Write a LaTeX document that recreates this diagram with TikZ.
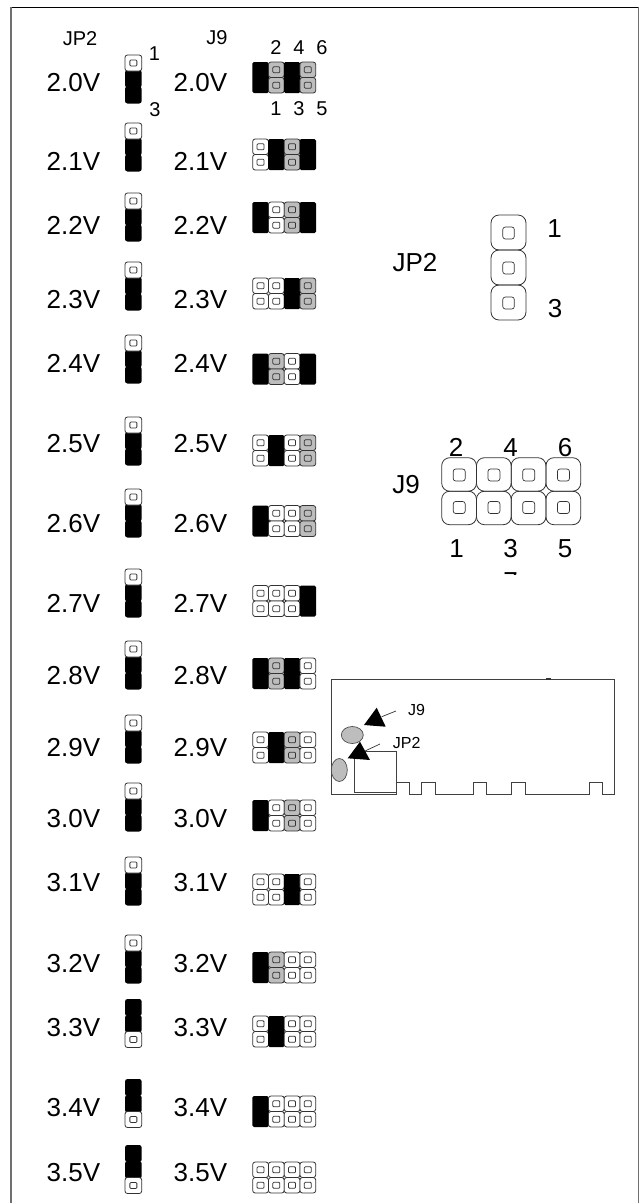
\documentclass[tikz,border=0pt]{standalone}
\usepackage{fontspec}
\setmainfont{Liberation Sans}
\definecolor{jgray}{HTML}{BDBDBD}
\definecolor{jline}{HTML}{333333}
\definecolor{framegray}{HTML}{707070}
\tikzset{
  x=1pt,y=-1pt,
  cellbox/.style={draw=jline,line width=0.8pt,rounded corners=2.5pt},
  pinbox/.style={draw=jline,line width=0.8pt,rounded corners=1pt},
  bigcell/.style={draw=jline,line width=0.8pt,rounded corners=8pt},
  bigpin/.style={draw=jline,line width=0.7pt,rounded corners=2.5pt},
  volt/.style={font=\fontsize{26}{26}\selectfont,anchor=base west,inner sep=0pt},
  hdr/.style={font=\fontsize{20}{20}\selectfont,anchor=base,inner sep=0pt},
  big/.style={font=\fontsize{26}{26}\selectfont,anchor=base,inner sep=0pt},
  small/.style={font=\fontsize{16}{16}\selectfont,anchor=base west,inner sep=0pt},
  pcb/.style={draw=black!75,line width=0.8pt},
}
% one jumper cell: x, y, width, height, fill
\newcommand{\jcell}[5]{%
  \path[cellbox,fill=#5] (#1,#2) rectangle ++(#3,#4);
  \path[pinbox] (#1+#3/2-3.5,#2+#4/2-3) rectangle ++(7,6);
}
% JP2 stack: top y, flag (0 white on top, 1 white at bottom)
\newcommand{\jpstack}[2]{%
  \ifnum#2=0
    \fill[black,rounded corners=2.5pt] (125,#1+15) rectangle (141.7,#1+32.5);
    \fill[black,rounded corners=2.5pt] (125,#1+31.5) rectangle (141.7,#1+48.5);
    \jcell{125}{#1}{16.7}{16}{white}
  \else
    \fill[black,rounded corners=2.5pt] (125,#1) rectangle (141.7,#1+17);
    \fill[black,rounded corners=2.5pt] (125,#1+16) rectangle (141.7,#1+33.5);
    \jcell{125}{#1+32.5}{16.7}{16}{white}
  \fi
}
% J9 column: column number, top y, kind
\newcommand{\jcol}[3]{%
  \pgfmathsetmacro{\cx}{252.7+15.75*(#1)}%
  \ifx#3B
    \fill[black,rounded corners=1.5pt] (\cx-0.3,#2) rectangle ++(16.35,31);
  \else\ifx#3G
    \jcell{\cx}{#2}{15.75}{15.5}{jgray}
    \jcell{\cx}{#2+15.5}{15.75}{15.5}{jgray}
  \else
    \jcell{\cx}{#2}{15.75}{15.5}{white}
    \jcell{\cx}{#2+15.5}{15.75}{15.5}{white}
  \fi\fi
}
\newcommand{\jrow}[5]{\jcol{0}{#1}{#2}\jcol{1}{#1}{#3}\jcol{2}{#1}{#4}\jcol{3}{#1}{#5}}
\begin{document}
\begin{tikzpicture}
\useasboundingbox (0,0) rectangle (640,1203);
% frame
\draw[black,line width=1pt] (10.5,7.5) -- (638.5,7.5);
\draw[framegray,line width=1.8pt] (11,7) -- (11,1203);
\draw[framegray,line width=1.8pt] (638.5,7) -- (638.5,1203);
% headers
\node[hdr] (hjp) at (80,45) {JP2};
\node[hdr] (hj) at (217,44) {J9};
\node[hdr] (a1) at (154.5,60) {1};
\node[hdr] (a3) at (155,116) {3};
\foreach \t/\xx in {2/276,4/299,6/322}{\node[hdr] (t\t) at (\xx,54) {\t};}
\foreach \t/\xx in {1/276,3/299,5/322}{\node[hdr] (t\t) at (\xx,115) {\t};}
% voltage labels
\foreach \v/\yy in {2.0/91,2.1/170,2.2/234,2.3/308,2.4/372,2.5/452,2.6/532,2.7/612,2.8/684,2.9/756,3.0/827,3.1/891,3.2/972,3.3/1036,3.4/1116,3.5/1181}{
  \node[volt] (l\v) at (46.5,\yy) {\v V};
  \node[volt] (r\v) at (173.5,\yy) {\v V};
}
% JP2 stacks
\foreach \yy in {55,123,193,262,335,417,489,569,641,715,783,857,935}{\jpstack{\yy}{0}}
\foreach \yy in {999,1079,1145}{\jpstack{\yy}{1}}
% J9 blocks
\jrow{62}{B}{G}{B}{G}
\jrow{139}{W}{B}{G}{B}
\jrow{202}{B}{W}{G}{B}
\jrow{278}{W}{W}{B}{G}
\jrow{353.5}{B}{G}{W}{B}
\jrow{435}{W}{B}{W}{G}
\jrow{505.5}{B}{W}{W}{G}
\jrow{585.5}{W}{W}{W}{B}
\jrow{658}{B}{G}{B}{W}
\jrow{732}{W}{B}{G}{W}
\jrow{800}{B}{W}{G}{W}
\jrow{874}{W}{W}{B}{W}
\jrow{952}{B}{G}{W}{W}
\jrow{1016}{W}{B}{W}{W}
\jrow{1096}{B}{W}{W}{W}
\jrow{1162}{W}{W}{W}{W}
% large JP2
\node[big] (bjp) at (415,271) {JP2};
\node[big] (b1) at (554.5,237) {1};
\node[big] (b3) at (555,317) {3};
\foreach \yy in {215,250,285}{
  \path[bigcell] (491,\yy) rectangle ++(35,35);
  \path[bigpin] (502.8,\yy+12) rectangle ++(11.5,12);
}
% large J9
\node[big] (bj) at (406,493) {J9};
\foreach \t/\xx in {2/456,4/510.7,6/565}{\node[big] (u\t) at (\xx,456) {\t};}
\foreach \t/\xx in {1/456.7,3/510.7,5/565}{\node[big] (u\t) at (\xx,557) {\t};}
\begin{scope}
  \clip (500,565) rectangle (522,574);
  \node[big] (u7) at (510.7,590) {7};
\end{scope}
\foreach \xx in {0,1,2,3}{
  \path[bigcell] (441.7+34.75*\xx,457.7) rectangle ++(34.75,33.5);
  \path[bigcell] (441.7+34.75*\xx,491.2) rectangle ++(34.75,33.5);
  \path[bigpin] (453.2+34.75*\xx,469) rectangle ++(12,12);
  \path[bigpin] (453.2+34.75*\xx,501.5) rectangle ++(12,12);
}
% board
\draw[pcb] (331,794.5) -- (331,679) -- (614,679) -- (614,794.5) -- (602.3,794.5) -- (602.3,782) -- (589,782) -- (589,794.5)
  -- (525,794.5) -- (525,782) -- (511.7,782) -- (511.7,794.5) -- (486,794.5) -- (486,782) -- (473.3,782) -- (473.3,794.5)
  -- (435,794.5) -- (435,782) -- (421.7,782) -- (421.7,794.5) -- (409.3,794.5) -- (409.3,782) -- (396,782) -- (396,794.5) -- cycle;
\fill[black!80] (545.7,678.2) rectangle (550.7,680);
\draw[pcb] (354.7,751.7) rectangle (396,792.3);
\path[draw=black!70,fill=jgray,line width=0.7pt] (352.3,735) ellipse [x radius=11,y radius=8.5];
\path[draw=black!70,fill=jgray,line width=0.7pt] (339.3,770) ellipse [x radius=8,y radius=11.5];
\fill[black] (376.7,707.7) -- (364,725) -- (385.7,726.7) -- cycle;
\draw[black!80,line width=0.7pt] (381.7,716.7) -- (396,711);
\fill[black] (360,741.7) -- (347.7,758.3) -- (370,760) -- cycle;
\draw[black!80,line width=0.7pt] (365,751) -- (380,744);
\node[small] (sj) at (408,715.7) {J9};
\node[small] (sjp) at (392.7,748) {JP2};
\end{tikzpicture}
\end{document}
